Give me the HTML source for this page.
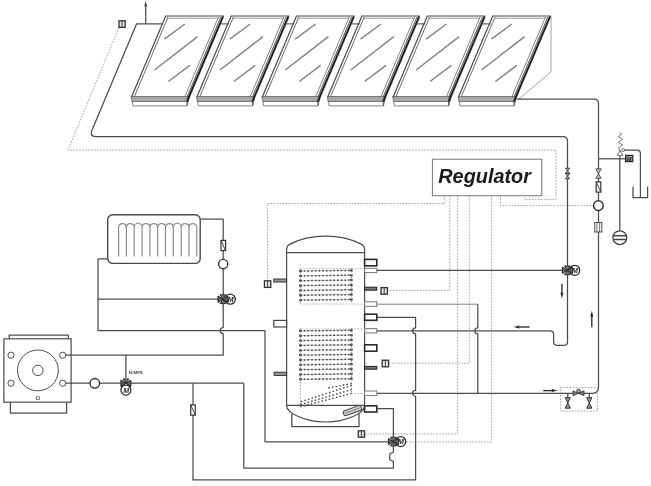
<!DOCTYPE html>
<html><head><meta charset="utf-8"><title>Regulator</title>
<style>
html,body{margin:0;padding:0;background:#fff;}
body{width:651px;height:486px;overflow:hidden;}
svg{display:block;filter:grayscale(1);}
.p{fill:none;stroke:#4c4c4c;stroke-width:1.25;stroke-linejoin:round;}
.pl{fill:none;stroke:#777;stroke-width:0.9;}
.d{fill:none;stroke:#999999;stroke-width:0.9;stroke-dasharray:1.6 1.4;}
.t{font-family:"Liberation Sans",sans-serif;}
</style></head><body>
<svg width="651" height="486" viewBox="0 0 651 486">
<defs>
<linearGradient id="gl" x1="0" y1="0" x2="1" y2="1"><stop offset="0" stop-color="#fdfdfd"/><stop offset="1" stop-color="#f4f4f4"/></linearGradient>
<linearGradient id="bf" x1="0" y1="0" x2="0" y2="1"><stop offset="0" stop-color="#9a9a9a"/><stop offset="0.45" stop-color="#d8d8d8"/><stop offset="1" stop-color="#ffffff"/></linearGradient>
</defs>
<rect width="651" height="486" fill="#fff"/>

<g id="panels">
<path d="M551,16 L551,72 L518.5,99.5" fill="none" stroke="#8a8a8a" stroke-width="0.8"/>
<path d="M132.4,101.4 L132.8,105.9 L187.3,105.9 L188.3,101.4" fill="#fff" stroke="#777" stroke-width="0.9"/>
<path d="M131.2,96.6 L189.5,96.6 L188.3,101.5 L131.9,101.5 Z" fill="#a9a9a9" stroke="#666" stroke-width="0.9"/>
<path d="M131.5,97.0 L165.7,16.0 L223.7,16.0" fill="none" stroke="#484848" stroke-width="1.2" stroke-linejoin="miter"/>
<path d="M167.4,18.2 L218.2,18.2" fill="none" stroke="#888" stroke-width="0.9"/>
<path d="M168.0,17.0 L134.4,96.5" fill="none" stroke="#6a6a6a" stroke-width="1"/>
<path d="M218.5,17.0 L184.9,96.5" fill="none" stroke="#777" stroke-width="0.9"/>
<path d="M220.8,17.0 L187.0,97.0" fill="none" stroke="#555" stroke-width="1"/>
<path d="M223.1,16.3 L187.0,101.5" fill="none" stroke="#222" stroke-width="2"/>
<path d="M187.0,101.5 L187.1,105.6" fill="none" stroke="#555" stroke-width="1.1"/>
<path d="M219.2,23.9 L229.0,23.9" fill="none" stroke="#444" stroke-width="1"/>
<path d="M164.4,39.2 L184.8,24.0" stroke="#858585" stroke-width="1.5" fill="none"/>
<path d="M154.5,70.0 L197.6,36.6" stroke="#858585" stroke-width="1.5" fill="none"/>
<path d="M168.4,81.5 L189.8,65.3" stroke="#858585" stroke-width="1.5" fill="none"/>
<path d="M197.8,101.4 L198.2,105.9 L252.7,105.9 L253.7,101.4" fill="#fff" stroke="#777" stroke-width="0.9"/>
<path d="M196.6,96.6 L254.9,96.6 L253.7,101.5 L197.3,101.5 Z" fill="#a9a9a9" stroke="#666" stroke-width="0.9"/>
<path d="M196.9,97.0 L231.1,16.0 L289.1,16.0" fill="none" stroke="#484848" stroke-width="1.2" stroke-linejoin="miter"/>
<path d="M232.8,18.2 L283.6,18.2" fill="none" stroke="#888" stroke-width="0.9"/>
<path d="M233.4,17.0 L199.8,96.5" fill="none" stroke="#6a6a6a" stroke-width="1"/>
<path d="M283.9,17.0 L250.3,96.5" fill="none" stroke="#777" stroke-width="0.9"/>
<path d="M286.2,17.0 L252.4,97.0" fill="none" stroke="#555" stroke-width="1"/>
<path d="M288.5,16.3 L252.4,101.5" fill="none" stroke="#222" stroke-width="2"/>
<path d="M252.4,101.5 L252.5,105.6" fill="none" stroke="#555" stroke-width="1.1"/>
<path d="M284.6,23.9 L294.4,23.9" fill="none" stroke="#444" stroke-width="1"/>
<path d="M229.8,39.2 L250.2,24.0" stroke="#858585" stroke-width="1.5" fill="none"/>
<path d="M219.9,70.0 L263.0,36.6" stroke="#858585" stroke-width="1.5" fill="none"/>
<path d="M233.8,81.5 L255.2,65.3" stroke="#858585" stroke-width="1.5" fill="none"/>
<path d="M263.2,101.4 L263.6,105.9 L318.1,105.9 L319.1,101.4" fill="#fff" stroke="#777" stroke-width="0.9"/>
<path d="M262.0,96.6 L320.3,96.6 L319.1,101.5 L262.7,101.5 Z" fill="#a9a9a9" stroke="#666" stroke-width="0.9"/>
<path d="M262.3,97.0 L296.5,16.0 L354.5,16.0" fill="none" stroke="#484848" stroke-width="1.2" stroke-linejoin="miter"/>
<path d="M298.2,18.2 L349.0,18.2" fill="none" stroke="#888" stroke-width="0.9"/>
<path d="M298.8,17.0 L265.2,96.5" fill="none" stroke="#6a6a6a" stroke-width="1"/>
<path d="M349.3,17.0 L315.7,96.5" fill="none" stroke="#777" stroke-width="0.9"/>
<path d="M351.6,17.0 L317.8,97.0" fill="none" stroke="#555" stroke-width="1"/>
<path d="M353.9,16.3 L317.8,101.5" fill="none" stroke="#222" stroke-width="2"/>
<path d="M317.8,101.5 L317.9,105.6" fill="none" stroke="#555" stroke-width="1.1"/>
<path d="M350.0,23.9 L359.8,23.9" fill="none" stroke="#444" stroke-width="1"/>
<path d="M295.2,39.2 L315.6,24.0" stroke="#858585" stroke-width="1.5" fill="none"/>
<path d="M285.3,70.0 L328.4,36.6" stroke="#858585" stroke-width="1.5" fill="none"/>
<path d="M299.2,81.5 L320.6,65.3" stroke="#858585" stroke-width="1.5" fill="none"/>
<path d="M328.6,101.4 L329.0,105.9 L383.5,105.9 L384.5,101.4" fill="#fff" stroke="#777" stroke-width="0.9"/>
<path d="M327.4,96.6 L385.7,96.6 L384.5,101.5 L328.1,101.5 Z" fill="#a9a9a9" stroke="#666" stroke-width="0.9"/>
<path d="M327.7,97.0 L361.9,16.0 L419.9,16.0" fill="none" stroke="#484848" stroke-width="1.2" stroke-linejoin="miter"/>
<path d="M363.6,18.2 L414.4,18.2" fill="none" stroke="#888" stroke-width="0.9"/>
<path d="M364.2,17.0 L330.6,96.5" fill="none" stroke="#6a6a6a" stroke-width="1"/>
<path d="M414.7,17.0 L381.1,96.5" fill="none" stroke="#777" stroke-width="0.9"/>
<path d="M417.0,17.0 L383.2,97.0" fill="none" stroke="#555" stroke-width="1"/>
<path d="M419.3,16.3 L383.2,101.5" fill="none" stroke="#222" stroke-width="2"/>
<path d="M383.2,101.5 L383.3,105.6" fill="none" stroke="#555" stroke-width="1.1"/>
<path d="M415.4,23.9 L425.2,23.9" fill="none" stroke="#444" stroke-width="1"/>
<path d="M360.6,39.2 L381.0,24.0" stroke="#858585" stroke-width="1.5" fill="none"/>
<path d="M350.7,70.0 L393.8,36.6" stroke="#858585" stroke-width="1.5" fill="none"/>
<path d="M364.6,81.5 L386.0,65.3" stroke="#858585" stroke-width="1.5" fill="none"/>
<path d="M394.0,101.4 L394.4,105.9 L448.9,105.9 L449.9,101.4" fill="#fff" stroke="#777" stroke-width="0.9"/>
<path d="M392.8,96.6 L451.1,96.6 L449.9,101.5 L393.5,101.5 Z" fill="#a9a9a9" stroke="#666" stroke-width="0.9"/>
<path d="M393.1,97.0 L427.3,16.0 L485.3,16.0" fill="none" stroke="#484848" stroke-width="1.2" stroke-linejoin="miter"/>
<path d="M429.0,18.2 L479.8,18.2" fill="none" stroke="#888" stroke-width="0.9"/>
<path d="M429.6,17.0 L396.0,96.5" fill="none" stroke="#6a6a6a" stroke-width="1"/>
<path d="M480.1,17.0 L446.5,96.5" fill="none" stroke="#777" stroke-width="0.9"/>
<path d="M482.4,17.0 L448.6,97.0" fill="none" stroke="#555" stroke-width="1"/>
<path d="M484.7,16.3 L448.6,101.5" fill="none" stroke="#222" stroke-width="2"/>
<path d="M448.6,101.5 L448.7,105.6" fill="none" stroke="#555" stroke-width="1.1"/>
<path d="M480.8,23.9 L490.6,23.9" fill="none" stroke="#444" stroke-width="1"/>
<path d="M426.0,39.2 L446.4,24.0" stroke="#858585" stroke-width="1.5" fill="none"/>
<path d="M416.1,70.0 L459.2,36.6" stroke="#858585" stroke-width="1.5" fill="none"/>
<path d="M430.0,81.5 L451.4,65.3" stroke="#858585" stroke-width="1.5" fill="none"/>
<path d="M459.4,101.4 L459.8,105.9 L514.3,105.9 L515.3,101.4" fill="#fff" stroke="#777" stroke-width="0.9"/>
<path d="M458.2,96.6 L516.5,96.6 L515.3,101.5 L458.9,101.5 Z" fill="#a9a9a9" stroke="#666" stroke-width="0.9"/>
<path d="M458.5,97.0 L492.7,16.0 L550.7,16.0" fill="none" stroke="#484848" stroke-width="1.2" stroke-linejoin="miter"/>
<path d="M494.4,18.2 L545.2,18.2" fill="none" stroke="#888" stroke-width="0.9"/>
<path d="M495.0,17.0 L461.4,96.5" fill="none" stroke="#6a6a6a" stroke-width="1"/>
<path d="M545.5,17.0 L511.9,96.5" fill="none" stroke="#777" stroke-width="0.9"/>
<path d="M547.8,17.0 L514.0,97.0" fill="none" stroke="#555" stroke-width="1"/>
<path d="M550.1,16.3 L514.0,101.5" fill="none" stroke="#222" stroke-width="2"/>
<path d="M514.0,101.5 L514.1,105.6" fill="none" stroke="#555" stroke-width="1.1"/>
<path d="M491.4,39.2 L511.8,24.0" stroke="#858585" stroke-width="1.5" fill="none"/>
<path d="M481.5,70.0 L524.6,36.6" stroke="#858585" stroke-width="1.5" fill="none"/>
<path d="M495.4,81.5 L516.8,65.3" stroke="#858585" stroke-width="1.5" fill="none"/>
</g>
<g id="solarpipes">
<path class="p" d="M163.2,23.8 L136.6,23.8 L92.5,129 Q89,136.5 96,136.5 L563,136.5 Q567.5,136.5 567.5,141 L567.5,341.4 Q567.5,345.4 563.5,345.4 L557.6,345.4 Q553.6,345.4 553.6,341.4 L553.6,334 Q553.6,330.8 550,330.8 L376.8,330.8"/>
<path class="p" d="M145.7,23.8 L145.7,5"/>
<path d="M145.7,0.6 L144.2,6.6 L147.2,6.6 Z" fill="#4c4c4c"/>
<path class="p" d="M517,99 L594,99 Q598.5,99 598.5,103.5 L598.5,387 Q598.5,393.3 592.5,393.3 L376.8,393.3"/>
</g>
<path class="d" d="M119,27.4 L68,150 L556,150 L556,199.6 L524.8,199.6 L524.8,195.7"/>
<rect x="119" y="20.8" width="6.2" height="6.6" fill="#e4e4e4" stroke="#333" stroke-width="1.3"/><path d="M122.1,20.8 V27.4" stroke="#333" stroke-width="0.9"/>
<g id="reg">
<rect x="432.4" y="159.2" width="109.4" height="36.5" fill="#fff" stroke="#777" stroke-width="1"/>
<text class="t" x="438.3" y="182.8" font-size="19.6" font-weight="bold" font-style="italic" fill="#1a1a1a" textLength="92.6" lengthAdjust="spacingAndGlyphs">Regulator</text>
</g>
<g id="ctl">
<path class="d" d="M444.4,195.7 L444.4,203.5 L267.5,203.5 L267.5,280.6"/>
<path class="d" d="M449.8,195.7 L449.8,290.4 L388,290.4"/>
<path class="d" d="M457.6,195.7 L457.6,434 L364.5,434"/>
<path class="d" d="M469.3,195.7 L469.3,363.2 L388.5,363.2"/>
<path class="d" d="M491.4,195.7 L491.4,442 L406,442"/>
<path class="d" d="M500.5,195.7 L500.5,205.6 L593.5,205.6"/>
</g>
<g id="tank">
<path class="p" d="M291.8,414 L291.8,426.6 L359,426.6 L359,414"/>
<path d="M286.6,249.4 Q286.6,246 289.20000000000005,244.4 C300.6,238.6 314.6,236.2 325.6,236.2 C336.6,236.2 350.6,238.6 362.0,244.4 Q364.6,246 364.6,249.4 L364.6,405.4 C364.6,413 346.6,422 325.6,422 C304.6,422 286.6,413 286.6,405.4 Z" fill="#fff" stroke="#4c4c4c" stroke-width="1.2"/>
<path class="p" d="M286.6,252.6 L364.6,252.6"/>
<path class="p" d="M286.6,405.3 L364.6,405.3"/>
<rect x="364.6" y="259.4" width="12.199999999999989" height="6.400000000000034" fill="#fff" stroke="#2a2a2a" stroke-width="1.6"/>
<rect x="364.6" y="268.3" width="12.199999999999989" height="4.300000000000011" fill="#fff" stroke="#777" stroke-width="1"/>
<rect x="364.6" y="287.2" width="12.199999999999989" height="3.0" fill="#777" stroke="#222" stroke-width="1"/>
<rect x="364.6" y="301.8" width="12.199999999999989" height="4.5" fill="#fff" stroke="#777" stroke-width="1"/>
<rect x="364.6" y="314.2" width="12.199999999999989" height="6.100000000000023" fill="#fff" stroke="#2a2a2a" stroke-width="1.6"/>
<rect x="364.6" y="328.6" width="12.199999999999989" height="4.2999999999999545" fill="#fff" stroke="#777" stroke-width="1"/>
<rect x="364.6" y="344.8" width="12.199999999999989" height="6.399999999999977" fill="#fff" stroke="#2a2a2a" stroke-width="1.6"/>
<rect x="364.6" y="366.4" width="12.199999999999989" height="2.8000000000000114" fill="#777" stroke="#222" stroke-width="1"/>
<rect x="364.6" y="391" width="12.199999999999989" height="4.600000000000023" fill="#fff" stroke="#777" stroke-width="1"/>
<rect x="364.6" y="405.8" width="12.199999999999989" height="6.199999999999989" fill="#fff" stroke="#2a2a2a" stroke-width="1.6"/>
<rect x="273.8" y="279" width="12.800000000000011" height="3" fill="#999" stroke="#333" stroke-width="1"/>
<rect x="273.8" y="320.4" width="12.800000000000011" height="6.600000000000023" fill="#fff" stroke="#444" stroke-width="1.2"/>
<rect x="274.2" y="372.2" width="12.400000000000034" height="3.1999999999999886" fill="#999" stroke="#333" stroke-width="1"/>
<rect x="264.4" y="280.8" width="6.4" height="6.6" fill="#e4e4e4" stroke="#333" stroke-width="1.3"/><path d="M267.59999999999997,280.8 V287.40000000000003" stroke="#333" stroke-width="0.9"/>
<rect x="381" y="287.6" width="6.4" height="6.6" fill="#e4e4e4" stroke="#333" stroke-width="1.3"/><path d="M384.2,287.6 V294.20000000000005" stroke="#333" stroke-width="0.9"/>
<rect x="382.2" y="360.2" width="6.4" height="6.6" fill="#e4e4e4" stroke="#333" stroke-width="1.3"/><path d="M385.4,360.2 V366.8" stroke="#333" stroke-width="0.9"/>
<rect x="358.3" y="430.8" width="6.2" height="6.4" fill="#e4e4e4" stroke="#333" stroke-width="1.3"/><path d="M361.40000000000003,430.8 V437.2" stroke="#333" stroke-width="0.9"/>
<path d="M300.4,271.0 L351.6,270.4" stroke="#9a9a9a" stroke-width="0.7" fill="none"/>
<path d="M303.79999999999995,271.0 L349.6,270.4" stroke="#444" stroke-width="1.5" stroke-dasharray="1.5 2.2" fill="none"/>
<rect x="299.2" y="269.8" width="2.6" height="2.4" fill="#444"/>
<rect x="350.20000000000005" y="269.2" width="2.4" height="2.4" fill="#444"/>
<path d="M300.4,275.9 L351.6,275.2" stroke="#9a9a9a" stroke-width="0.7" fill="none"/>
<path d="M303.79999999999995,275.9 L349.6,275.2" stroke="#444" stroke-width="1.5" stroke-dasharray="1.5 2.2" fill="none"/>
<rect x="299.2" y="274.7" width="2.6" height="2.4" fill="#444"/>
<rect x="350.20000000000005" y="274.1" width="2.4" height="2.4" fill="#444"/>
<path d="M300.4,280.7 L351.6,280.1" stroke="#9a9a9a" stroke-width="0.7" fill="none"/>
<path d="M303.79999999999995,280.7 L349.6,280.1" stroke="#444" stroke-width="1.5" stroke-dasharray="1.5 2.2" fill="none"/>
<rect x="299.2" y="279.5" width="2.6" height="2.4" fill="#444"/>
<rect x="350.20000000000005" y="278.9" width="2.4" height="2.4" fill="#444"/>
<path d="M300.4,285.6 L351.6,284.9" stroke="#9a9a9a" stroke-width="0.7" fill="none"/>
<path d="M303.79999999999995,285.6 L349.6,284.9" stroke="#444" stroke-width="1.5" stroke-dasharray="1.5 2.2" fill="none"/>
<rect x="299.2" y="284.4" width="2.6" height="2.4" fill="#444"/>
<rect x="350.20000000000005" y="283.8" width="2.4" height="2.4" fill="#444"/>
<path d="M300.4,290.4 L351.6,289.8" stroke="#9a9a9a" stroke-width="0.7" fill="none"/>
<path d="M303.79999999999995,290.4 L349.6,289.8" stroke="#444" stroke-width="1.5" stroke-dasharray="1.5 2.2" fill="none"/>
<rect x="299.2" y="289.2" width="2.6" height="2.4" fill="#444"/>
<rect x="350.20000000000005" y="288.6" width="2.4" height="2.4" fill="#444"/>
<path d="M300.4,295.2 L351.6,294.6" stroke="#9a9a9a" stroke-width="0.7" fill="none"/>
<path d="M303.79999999999995,295.2 L349.6,294.6" stroke="#444" stroke-width="1.5" stroke-dasharray="1.5 2.2" fill="none"/>
<rect x="299.2" y="294.1" width="2.6" height="2.4" fill="#444"/>
<rect x="350.20000000000005" y="293.4" width="2.4" height="2.4" fill="#444"/>
<path d="M300.4,300.1 L351.6,299.5" stroke="#9a9a9a" stroke-width="0.7" fill="none"/>
<path d="M303.79999999999995,300.1 L349.6,299.5" stroke="#444" stroke-width="1.5" stroke-dasharray="1.5 2.2" fill="none"/>
<rect x="299.2" y="298.9" width="2.6" height="2.4" fill="#444"/>
<rect x="350.20000000000005" y="298.3" width="2.4" height="2.4" fill="#444"/>
<path d="M300.4,330.9 L351.6,330.3" stroke="#9a9a9a" stroke-width="0.7" fill="none"/>
<path d="M303.79999999999995,330.9 L349.6,330.3" stroke="#444" stroke-width="1.5" stroke-dasharray="1.5 2.2" fill="none"/>
<rect x="299.2" y="329.7" width="2.6" height="2.4" fill="#444"/>
<rect x="350.20000000000005" y="329.1" width="2.4" height="2.4" fill="#444"/>
<path d="M300.4,335.7 L351.6,335.1" stroke="#9a9a9a" stroke-width="0.7" fill="none"/>
<path d="M303.79999999999995,335.7 L349.6,335.1" stroke="#444" stroke-width="1.5" stroke-dasharray="1.5 2.2" fill="none"/>
<rect x="299.2" y="334.5" width="2.6" height="2.4" fill="#444"/>
<rect x="350.20000000000005" y="333.9" width="2.4" height="2.4" fill="#444"/>
<path d="M300.4,340.6 L351.6,340.0" stroke="#9a9a9a" stroke-width="0.7" fill="none"/>
<path d="M303.79999999999995,340.6 L349.6,340.0" stroke="#444" stroke-width="1.5" stroke-dasharray="1.5 2.2" fill="none"/>
<rect x="299.2" y="339.4" width="2.6" height="2.4" fill="#444"/>
<rect x="350.20000000000005" y="338.8" width="2.4" height="2.4" fill="#444"/>
<path d="M300.4,345.4 L351.6,344.8" stroke="#9a9a9a" stroke-width="0.7" fill="none"/>
<path d="M303.79999999999995,345.4 L349.6,344.8" stroke="#444" stroke-width="1.5" stroke-dasharray="1.5 2.2" fill="none"/>
<rect x="299.2" y="344.2" width="2.6" height="2.4" fill="#444"/>
<rect x="350.20000000000005" y="343.6" width="2.4" height="2.4" fill="#444"/>
<path d="M300.4,350.3 L351.6,349.7" stroke="#9a9a9a" stroke-width="0.7" fill="none"/>
<path d="M303.79999999999995,350.3 L349.6,349.7" stroke="#444" stroke-width="1.5" stroke-dasharray="1.5 2.2" fill="none"/>
<rect x="299.2" y="349.1" width="2.6" height="2.4" fill="#444"/>
<rect x="350.20000000000005" y="348.5" width="2.4" height="2.4" fill="#444"/>
<path d="M300.4,355.1 L351.6,354.5" stroke="#9a9a9a" stroke-width="0.7" fill="none"/>
<path d="M303.79999999999995,355.1 L349.6,354.5" stroke="#444" stroke-width="1.5" stroke-dasharray="1.5 2.2" fill="none"/>
<rect x="299.2" y="353.9" width="2.6" height="2.4" fill="#444"/>
<rect x="350.20000000000005" y="353.3" width="2.4" height="2.4" fill="#444"/>
<path d="M300.4,359.9 L351.6,359.3" stroke="#9a9a9a" stroke-width="0.7" fill="none"/>
<path d="M303.79999999999995,359.9 L349.6,359.3" stroke="#444" stroke-width="1.5" stroke-dasharray="1.5 2.2" fill="none"/>
<rect x="299.2" y="358.7" width="2.6" height="2.4" fill="#444"/>
<rect x="350.20000000000005" y="358.1" width="2.4" height="2.4" fill="#444"/>
<path d="M300.4,364.8 L351.6,364.2" stroke="#9a9a9a" stroke-width="0.7" fill="none"/>
<path d="M303.79999999999995,364.8 L349.6,364.2" stroke="#444" stroke-width="1.5" stroke-dasharray="1.5 2.2" fill="none"/>
<rect x="299.2" y="363.6" width="2.6" height="2.4" fill="#444"/>
<rect x="350.20000000000005" y="363.0" width="2.4" height="2.4" fill="#444"/>
<path d="M300.4,369.6 L351.6,369.0" stroke="#9a9a9a" stroke-width="0.7" fill="none"/>
<path d="M303.79999999999995,369.6 L349.6,369.0" stroke="#444" stroke-width="1.5" stroke-dasharray="1.5 2.2" fill="none"/>
<rect x="299.2" y="368.4" width="2.6" height="2.4" fill="#444"/>
<rect x="350.20000000000005" y="367.8" width="2.4" height="2.4" fill="#444"/>
<path d="M300.4,374.5 L351.6,373.9" stroke="#9a9a9a" stroke-width="0.7" fill="none"/>
<path d="M303.79999999999995,374.5 L349.6,373.9" stroke="#444" stroke-width="1.5" stroke-dasharray="1.5 2.2" fill="none"/>
<rect x="299.2" y="373.3" width="2.6" height="2.4" fill="#444"/>
<rect x="350.20000000000005" y="372.7" width="2.4" height="2.4" fill="#444"/>
<path d="M300.4,379.3 L351.6,378.7" stroke="#9a9a9a" stroke-width="0.7" fill="none"/>
<path d="M303.79999999999995,379.3 L349.6,378.7" stroke="#444" stroke-width="1.5" stroke-dasharray="1.5 2.2" fill="none"/>
<rect x="299.2" y="378.1" width="2.6" height="2.4" fill="#444"/>
<rect x="350.20000000000005" y="377.5" width="2.4" height="2.4" fill="#444"/>
<path d="M300.4,269 V305 M351.6,268 V304 M300.4,328 V407 M351.6,328 V394" stroke="#888" stroke-width="0.9" stroke-dasharray="1.4 1.6" fill="none"/>
<path d="M351.6,393.4 L300.4,406.8 M351.6,389.6 L300.4,404.6 M351.6,385.4 L300.4,402 M351.6,383.6 L326,388.4" stroke="#444" stroke-width="1.4" stroke-dasharray="1.5 2.2" fill="none"/>
<path d="M300.4,268.6 H364 M300.4,304 H364 M300.4,329 H364 M351.6,393.6 H364" stroke="#999" stroke-width="0.8" stroke-dasharray="1.5 1.5" fill="none"/>
<g transform="rotate(-20 352.4 410.6)"><rect x="343" y="408" width="18.8" height="5.2" rx="2" fill="#d0d0d0" stroke="#444" stroke-width="1"/><path d="M344.6,410.6 H360.4" stroke="#777" stroke-width="0.8"/></g>
</g>
<g id="tankpipes">
<path class="p" d="M376.8,270.4 L564,270.4"/>
<path class="pl" d="M376.8,304.2 L477.8,304.2"/>
<path class="p" d="M477.8,304.2 L477.8,327.8 A3,3 0 0 0 477.8,333.8 L477.8,393.3"/>
<path class="p" d="M376.8,317.3 L415.6,317.3 L415.6,327.8 A3,3 0 0 0 415.6,333.8 L415.6,390.3 A3,3 0 0 0 415.6,396.3 L415.6,479.9 L193,479.9 L193,383.2"/>
<path class="p" d="M376.8,408.6 L393.4,408.6 L393.4,452 L389.8,454 L389.8,459.6 L393.4,461.5 L393.4,468.2 L243.8,468.2 L243.8,383.2"/>
<path class="p" d="M388,441.8 L265,441.8 L265,330.6"/>
</g>
<g id="boiler">
<path class="p" d="M9.2,338.8 L9.2,335 L68.4,335 L68.4,338.8"/>
<path class="p" d="M10.4,402.2 L10.4,413.2 L66.6,413.2 L66.6,402.2"/>
<rect x="3.9" y="338.8" width="67.2" height="63.4" fill="#fff" stroke="#4c4c4c" stroke-width="1.2"/>
<circle cx="37.9" cy="370.4" r="20.4" fill="#fff" stroke="#4c4c4c" stroke-width="1"/>
<circle cx="37.9" cy="370.4" r="5.2" fill="#fff" stroke="#4c4c4c" stroke-width="1"/>
<circle cx="11" cy="355.2" r="3.1" fill="#fff" stroke="#4c4c4c" stroke-width="1"/>
<circle cx="62.7" cy="355.2" r="3.1" fill="#fff" stroke="#4c4c4c" stroke-width="1"/>
<circle cx="11" cy="383.2" r="3.1" fill="#fff" stroke="#4c4c4c" stroke-width="1"/>
<circle cx="62.7" cy="383.2" r="3.1" fill="#fff" stroke="#4c4c4c" stroke-width="1"/>
<rect x="36.4" y="396.8" width="3" height="2.6" fill="#fff" stroke="#4c4c4c" stroke-width="0.7"/>
</g>
<g id="heat">
<rect x="107.7" y="214.8" width="92.5" height="48.6" rx="5" fill="#fff" stroke="#4a4a4a" stroke-width="1.4"/>
<path d="M118.6,256.4 L118.6,227.2 A3.91,3.91 0 0 1 126.4,227.2 M126.4,256.4 L126.4,227.2 A3.91,3.91 0 0 1 134.2,227.2 M134.2,256.4 L134.2,227.2 A3.91,3.91 0 0 1 142.1,227.2 M142.1,256.4 L142.1,227.2 A3.91,3.91 0 0 1 149.9,227.2 M149.9,256.4 L149.9,227.2 A3.91,3.91 0 0 1 157.7,227.2 M157.7,256.4 L157.7,227.2 A3.91,3.91 0 0 1 165.5,227.2 M165.5,256.4 L165.5,227.2 A3.91,3.91 0 0 1 173.3,227.2 M173.3,256.4 L173.3,227.2 A3.91,3.91 0 0 1 181.2,227.2 M181.2,256.4 L181.2,227.2 A3.91,3.91 0 0 1 189.0,227.2 M189.0,256.4 L189.0,227.2 A3.91,3.91 0 0 1 196.8,227.2 M196.8,227.2 L196.8,256.4" fill="none" stroke="#8c8c8c" stroke-width="1.2"/>
<path class="p" d="M200.2,219 L223.2,219 L223.2,327.5 A3,3 0 0 0 223.2,333.5 L223.2,355.2 L65.8,355.2"/>
<path class="p" d="M107.6,258.8 L98,258.8 L98,330.6 L265,330.6"/>
<path class="p" d="M98,299.2 L223.2,299.2"/>
<path class="p" d="M65.8,383.2 L243.8,383.2"/>
<path class="p" d="M125.9,355 L125.9,378"/>
</g>
<g id="comp">
<rect x="221.0" y="240.4" width="4.6" height="10.2" fill="#fff" stroke="#333" stroke-width="1.2"/><path d="M221.0,240.4 L225.60000000000002,250.6" stroke="#333" stroke-width="0.9"/>
<circle cx="223.2" cy="264" r="4.6" fill="#fff" stroke="#333" stroke-width="1.4"/>
<circle cx="230.3" cy="299.2" r="5" fill="#fff" stroke="#2a2a2a" stroke-width="1.3"/>
<text class="t" x="230.60000000000002" y="301.7" font-size="7" font-weight="bold" font-style="italic" text-anchor="middle" fill="#222">M</text>
<path d="M218,296.0 L228,302.4 L228,296.0 L218,302.4 Z" fill="#666" stroke="#222" stroke-width="1"/>
<path d="M223,299.2 L220,303.59999999999997 L226,303.59999999999997 Z M223,299.2 L220,294.8 L226,294.8 Z" fill="#777" stroke="#222" stroke-width="0.9"/>
<circle cx="94.8" cy="383.3" r="4.8" fill="#fff" stroke="#333" stroke-width="1.4"/>
<circle cx="125.9" cy="390.1" r="5" fill="#fff" stroke="#2a2a2a" stroke-width="1.3"/>
<text class="t" x="126.2" y="392.6" font-size="7" font-weight="bold" font-style="italic" text-anchor="middle" fill="#222">M</text>
<path d="M120.9,380.1 L130.9,386.5 L130.9,380.1 L120.9,386.5 Z" fill="#666" stroke="#222" stroke-width="1"/>
<path d="M125.9,383.3 L122.9,378.90000000000003 L128.9,378.90000000000003 Z" fill="#777" stroke="#222" stroke-width="0.9"/>
<text class="t" x="128.8" y="374.1" font-size="3.9" font-weight="bold" fill="#333" textLength="14" lengthAdjust="spacingAndGlyphs">H-MFS</text>
<rect x="190.7" y="404.9" width="4.6" height="10.2" fill="#fff" stroke="#333" stroke-width="1.2"/><path d="M190.7,404.9 L195.3,415.1" stroke="#333" stroke-width="0.9"/>
<circle cx="400.7" cy="441.6" r="5" fill="#fff" stroke="#2a2a2a" stroke-width="1.3"/>
<text class="t" x="401.0" y="444.1" font-size="7" font-weight="bold" font-style="italic" text-anchor="middle" fill="#222">M</text>
<path d="M388.4,438.40000000000003 L398.4,444.8 L398.4,438.40000000000003 L388.4,444.8 Z" fill="#666" stroke="#222" stroke-width="1"/>
<path d="M393.4,441.6 L390.4,446.0 L396.4,446.0 Z M393.4,441.6 L390.4,437.20000000000005 L396.4,437.20000000000005 Z" fill="#777" stroke="#222" stroke-width="0.9"/>
<circle cx="574.6999999999999" cy="270.3" r="5" fill="#fff" stroke="#2a2a2a" stroke-width="1.3"/>
<text class="t" x="574.9999999999999" y="272.8" font-size="7" font-weight="bold" font-style="italic" text-anchor="middle" fill="#222">M</text>
<path d="M562.4,267.1 L572.4,273.5 L572.4,267.1 L562.4,273.5 Z" fill="#666" stroke="#222" stroke-width="1"/>
<path d="M567.4,270.3 L564.4,274.7 L570.4,274.7 Z M567.4,270.3 L564.4,265.90000000000003 L570.4,265.90000000000003 Z" fill="#777" stroke="#222" stroke-width="0.9"/>
<path d="M565.4,168.2 L569.6,173.4 L565.4,173.4 L569.6,168.2 Z M565.4,173.6 L569.6,178.8 L565.4,178.8 L569.6,173.6 Z" fill="#bbb" stroke="#333" stroke-width="0.9"/>
<path d="M595.8,168.8 L601.2,168.8 L595.8,178.4 L601.2,178.4 Z" fill="#bbb" stroke="#4c4c4c" stroke-width="0.9"/>
<rect x="596.2" y="181.9" width="4.6" height="10.2" fill="#fff" stroke="#333" stroke-width="1.2"/><path d="M596.2,181.9 L600.8,192.1" stroke="#333" stroke-width="0.9"/>
<circle cx="598.4" cy="205.6" r="4.9" fill="#fff" stroke="#333" stroke-width="1.4"/>
<rect x="594.8" y="222.5" width="7" height="9.5" fill="#fff" stroke="#4c4c4c" stroke-width="1"/><path d="M597,222.5 V232 M599.6,222.5 V232" stroke="#4c4c4c" stroke-width="0.8"/>
<path class="p" d="M598.3,158.8 L626,158.8"/>
<path class="p" d="M619.8,155.4 L619.8,231"/>
<circle cx="619.8" cy="237.7" r="6.9" fill="#fff" stroke="#444" stroke-width="1.3"/>
<path d="M613.3,235.1 H626.3 V236.6 H613.3 Z M613.3,238.8 H626.3 V240.3 H613.3 Z" fill="#444"/>
<path d="M617.2,155.4 L622.8,155.4 L620,150.4 Z" fill="#fff" stroke="#4c4c4c" stroke-width="0.8"/>
<path d="M620,150.4 L618.4,147.8 L622.6,145 L618.4,142.2 L622.6,139.4 L618.4,136.6 L621.6,134.2 L620,132.4" fill="none" stroke="#4c4c4c" stroke-width="0.8"/>
<circle cx="623.2" cy="150" r="1.5" fill="#fff" stroke="#4c4c4c" stroke-width="0.8"/>
<path class="p" d="M624.7,150 L637,150 Q640.4,150 640.4,153.4 L640.4,197.4"/>
<rect x="625.6" y="155.4" width="7.2" height="6.2" fill="#999" stroke="#222" stroke-width="1.2"/><text class="t" x="629.2" y="160.6" font-size="5.4" font-weight="bold" text-anchor="middle" fill="#222">M</text>
<path class="p" d="M633,186.7 L633,197.5 L647.6,197.5 L647.6,186.7"/>
<rect x="560.6" y="387.6" width="36.8" height="23.4" fill="none" stroke="#888" stroke-width="0.8" stroke-dasharray="1.6 1.4"/>
<path d="M565.1999999999999,397.6 L570.4,397.6 L565.1999999999999,408.2 L570.4,408.2 Z" fill="#999" stroke="#333" stroke-width="1"/>
<path class="p" d="M567.8,393.3 V397.6"/>
<path d="M586.6999999999999,397.6 L591.9,397.6 L586.6999999999999,408.2 L591.9,408.2 Z" fill="#999" stroke="#333" stroke-width="1"/>
<path class="p" d="M589.3,393.3 V397.6"/>
<path d="M573,395.8 L578.4,393.3 L573,390.8 Z M584,395.8 L578.6,393.3 L584,390.8 Z" fill="#777" stroke="#333" stroke-width="0.8"/>
<circle cx="578.5" cy="391" r="1.8" fill="#aaa" stroke="#333" stroke-width="0.9"/>
<path d="M561.9,283.8 L561.9,292.5" stroke="#222" stroke-width="1.3" fill="none"/>
<path d="M561.9,298.5 L560.4,292.5 L563.4,292.5 Z" fill="#222"/>
<path d="M591.8,327.2 L591.8,316.8" stroke="#222" stroke-width="1.3" fill="none"/>
<path d="M591.8,310.8 L593.3,316.8 L590.3,316.8 Z" fill="#222"/>
<path d="M529.6,327.0 L519.5,327.0" stroke="#222" stroke-width="1.3" fill="none"/>
<path d="M513.5,327.0 L519.5,325.5 L519.5,328.5 Z" fill="#222"/>
<path d="M543.2,390.6 L551.6,390.6" stroke="#222" stroke-width="1.3" fill="none"/>
<path d="M557.6,390.6 L551.6,392.1 L551.6,389.1 Z" fill="#222"/>
</g>
</svg>
</body></html>
